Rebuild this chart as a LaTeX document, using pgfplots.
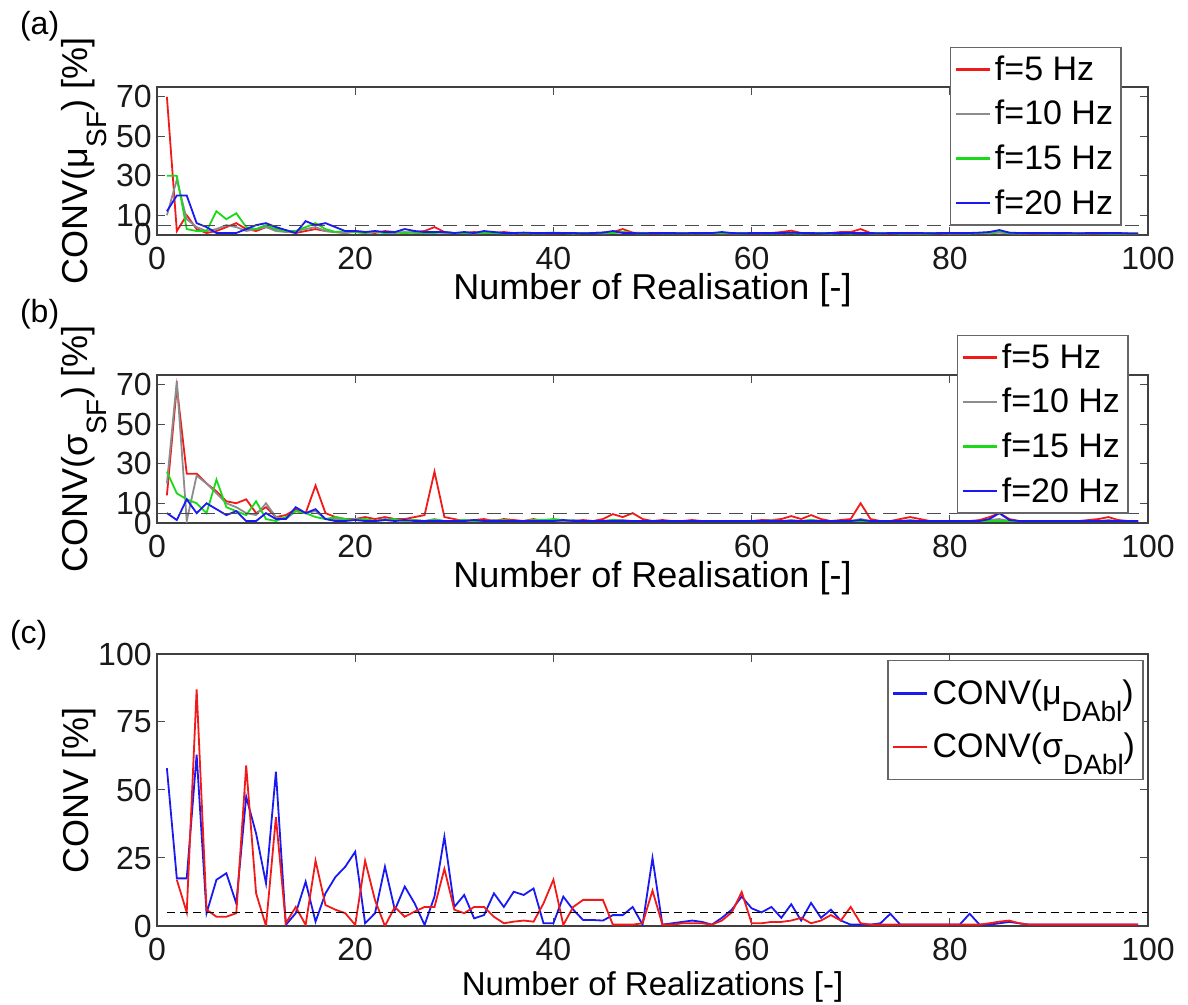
\documentclass[border=0pt]{standalone}
\usepackage{pgfplots}
\pgfplotsset{compat=1.18}
\usepackage{fontspec}
\setmainfont{Liberation Sans}
\definecolor{cred}{rgb}{0.95,0.1,0.1}
\definecolor{cgray}{rgb}{0.55,0.55,0.55}
\definecolor{cgreen}{rgb}{0.1,0.85,0.1}
\definecolor{cblue}{rgb}{0.1,0.1,0.95}
\newcommand{\msub}[1]{\raisebox{-0.5em}{\fontsize{14}{14}\selectfont #1}}
\newcommand{\fs}{\fontsize{16}{16}\selectfont}
\newcommand{\fl}{\fontsize{18}{18}\selectfont}
\newcommand{\fg}{\fontsize{17}{17}\selectfont}
\pgfplotsset{
  myax/.style={
    scale only axis, width=495.5pt, xmin=0, xmax=100, xtick={0,20,...,100},
    tick align=inside, major tick length=4pt,
    tick style={black!70, line width=0.5pt},
    axis line style={black!75, line width=0.6pt},
    /pgf/number format/assume math mode=true,
    every tick label/.append style={font=\fs, text=black!90},
    xticklabel style={inner ysep=6pt},
    yticklabel style={inner xsep=2.5pt},
    legend style={font=\fg, draw=black!60, line width=0.6pt, fill=white,
      cells={anchor=west}, inner xsep=2pt},
    legend image post style={line width=1.2pt},
    legend cell align=left,
    every axis plot/.append style={line width=0.9pt},
  },
}
\begin{document}
\begin{tikzpicture}
% ---------------- (a)
\begin{axis}[myax, at={(78.5pt,385pt)}, anchor=south west, height=74pt,
  ymin=0, ymax=75, ytick={0,10,30,50,70},
  xlabel={Number of Realisation [-]},
  ylabel={CONV(μ\msub{SF}) [\%]},
  every axis x label/.style={at={([yshift=-32.5pt]axis description cs:0.5,0)}, anchor=base, font=\fl},
  every axis y label/.style={at={([xshift=-34.5pt]axis description cs:0,0.5)}, anchor=base, rotate=90, font=\fl},
  legend style={at={(0.800,1.27)}, anchor=north west, row sep=4.5pt},
]
\addplot[color=cred] coordinates {(1,70)(2,2)(3,10)(4,3)(5,1)(6,2)(7,4)(8,6)(9,3)(10,2)(11,4)(12,3)(13,2)(14,1)(15,2)(16,3)(17,2)(18,1.5)(19,1)(20,2)(21,1.5)(22,1)(23,2)(24,1.5)(25,1)(26,1.5)(27,2)(28,4)(29,1.5)(30,1)(31,1)(32,1.5)(33,1)(34,1)(35,1.5)(36,1)(37,0.8)(38,1)(39,1)(40,0.8)(41,1)(42,1)(43,0.8)(44,1)(45,1.2)(46,1.5)(47,3)(48,1.2)(49,1)(50,0.8)(51,1)(52,1)(53,0.8)(54,0.8)(55,1)(56,1)(57,0.8)(58,0.8)(59,1)(60,0.8)(61,1)(62,1)(63,1.5)(64,2.2)(65,1)(66,0.8)(67,1)(68,1)(69,1.5)(70,1.5)(71,3)(72,1)(73,0.8)(74,0.8)(75,1)(76,0.8)(77,0.8)(78,1)(79,0.8)(80,0.8)(81,0.8)(82,1)(83,0.8)(84,1)(85,1.5)(86,1)(87,0.8)(88,0.8)(89,0.8)(90,0.8)(91,1)(92,0.8)(93,0.8)(94,0.8)(95,0.8)(96,1)(97,0.8)(98,0.8)(99,0.8)};
\addlegendentry{f=5 Hz}
\addplot[color=cgray] coordinates {(1,10)(2,28)(3,8)(4,4)(5,2)(6,3)(7,5)(8,4)(9,2)(10,3)(11,4)(12,2)(13,1.5)(14,2)(15,3)(16,4)(17,2)(18,1.5)(19,1)(20,1.5)(21,1)(22,1.5)(23,1)(24,1)(25,1.5)(26,1)(27,1)(28,1.5)(29,1)(30,1)(31,1)(32,0.8)(33,1)(34,1)(35,1)(36,0.8)(37,1)(38,1)(39,0.8)(40,1)(41,1)(42,0.8)(43,1)(44,1)(45,0.8)(46,1)(47,1.5)(48,1)(49,0.8)(50,1)(51,0.8)(52,1)(53,0.8)(54,1)(55,0.8)(56,0.8)(57,1)(58,0.8)(59,0.8)(60,1)(61,0.8)(62,1)(63,0.8)(64,1)(65,0.8)(66,1)(67,0.8)(68,0.8)(69,1)(70,0.8)(71,1.2)(72,0.8)(73,0.8)(74,1)(75,0.8)(76,0.8)(77,0.8)(78,0.8)(79,1)(80,0.8)(81,0.8)(82,0.8)(83,1)(84,0.8)(85,1.2)(86,0.8)(87,0.8)(88,0.8)(89,1)(90,0.8)(91,0.8)(92,0.8)(93,0.8)(94,0.8)(95,1)(96,0.8)(97,0.8)(98,0.8)(99,0.8)};
\addlegendentry{f=10 Hz}
\addplot[color=cgreen] coordinates {(1,30)(2,30)(3,3)(4,2)(5,2)(6,12)(7,8)(8,11)(9,4)(10,3)(11,5)(12,3)(13,2)(14,2)(15,4)(16,6)(17,3)(18,1.5)(19,2)(20,1.5)(21,1)(22,2)(23,1)(24,1.5)(25,1)(26,1.5)(27,1)(28,1)(29,1.5)(30,1)(31,1)(32,1)(33,1.2)(34,1)(35,0.8)(36,1)(37,1)(38,0.8)(39,1)(40,1.2)(41,1)(42,0.8)(43,1)(44,1)(45,1.2)(46,1)(47,1.5)(48,1)(49,0.8)(50,1)(51,1)(52,0.8)(53,1)(54,0.8)(55,1)(56,1)(57,0.8)(58,1)(59,0.8)(60,1)(61,1)(62,0.8)(63,1)(64,1)(65,0.8)(66,1)(67,1)(68,0.8)(69,1)(70,0.8)(71,1)(72,1)(73,0.8)(74,1)(75,0.8)(76,1)(77,0.8)(78,0.8)(79,1)(80,0.8)(81,1)(82,0.8)(83,1)(84,1.2)(85,2)(86,1)(87,0.8)(88,1)(89,0.8)(90,0.8)(91,1)(92,0.8)(93,0.8)(94,1)(95,0.8)(96,0.8)(97,0.8)(98,0.8)(99,0.8)};
\addlegendentry{f=15 Hz}
\addplot[color=cblue] coordinates {(1,12)(2,20)(3,20)(4,6)(5,4)(6,1)(7,1)(8,1)(9,3)(10,5)(11,6)(12,4)(13,2.5)(14,1)(15,7)(16,5)(17,6)(18,4)(19,2)(20,2)(21,1.5)(22,2)(23,1.5)(24,1.5)(25,3)(26,2)(27,1.5)(28,1.5)(29,1.5)(30,1)(31,1.5)(32,1)(33,2)(34,1.5)(35,1)(36,1)(37,1.2)(38,1)(39,1)(40,1)(41,1)(42,1)(43,0.8)(44,1)(45,1.2)(46,2)(47,1)(48,1)(49,0.8)(50,1)(51,1)(52,1)(53,0.8)(54,1)(55,1)(56,1)(57,1.5)(58,1)(59,0.8)(60,1)(61,1)(62,1)(63,1)(64,1.2)(65,1)(66,1)(67,0.8)(68,1)(69,1)(70,1)(71,1)(72,1)(73,0.8)(74,1)(75,1)(76,1)(77,1)(78,0.8)(79,1)(80,1)(81,1)(82,1)(83,1.2)(84,1.5)(85,2.5)(86,1.2)(87,1)(88,1)(89,1)(90,1)(91,1)(92,1)(93,0.8)(94,1)(95,1)(96,1)(97,1)(98,0.8)(99,0.8)};
\addlegendentry{f=20 Hz}
\addplot[black!70, line width=0.6pt, dash pattern=on 7pt off 4pt, forget plot] coordinates {(0,5)(100,5)};
\end{axis}
% ---------------- (b)
\begin{axis}[myax, at={(78.5pt,241pt)}, anchor=south west, height=74pt,
  ymin=0, ymax=75, ytick={0,10,30,50,70},
  xlabel={Number of Realisation [-]},
  ylabel={CONV(σ\msub{SF}) [\%]},
  every axis x label/.style={at={([yshift=-32.5pt]axis description cs:0.5,0)}, anchor=base, font=\fl},
  every axis y label/.style={at={([xshift=-34.5pt]axis description cs:0,0.5)}, anchor=base, rotate=90, font=\fl},
  legend style={at={(0.807,1.27)}, anchor=north west, row sep=4.5pt},
]
\addplot[color=cred] coordinates {(1,14)(2,69)(3,25)(4,25)(5,20)(6,16)(7,11)(8,10)(9,12)(10,5)(11,8)(12,3)(13,4)(14,7)(15,5)(16,19)(17,5)(18,3)(19,2)(20,2)(21,3)(22,2)(23,3)(24,2)(25,2)(26,3)(27,4)(28,26)(29,3)(30,2)(31,1)(32,1.5)(33,2)(34,1)(35,2)(36,1.5)(37,1)(38,2)(39,1)(40,1.5)(41,1)(42,1)(43,1.5)(44,1)(45,2)(46,4.5)(47,3)(48,5)(49,2)(50,1)(51,1.5)(52,1)(53,1)(54,1.5)(55,1)(56,1)(57,1)(58,1)(59,1)(60,1)(61,1.5)(62,1.5)(63,2)(64,3.5)(65,2)(66,4)(67,2)(68,1)(69,1.5)(70,2)(71,10)(72,2)(73,1)(74,1)(75,2)(76,3)(77,2)(78,1)(79,1)(80,1)(81,1)(82,1)(83,1.5)(84,3)(85,5)(86,2)(87,1)(88,1)(89,1)(90,1)(91,1)(92,1)(93,1)(94,1.5)(95,2)(96,3)(97,1.5)(98,1)(99,1)};
\addlegendentry{f=5 Hz}
\addplot[color=cgray] coordinates {(1,20)(2,72)(3,1)(4,24)(5,20)(6,15)(7,10)(8,8)(9,5)(10,4)(11,10)(12,3)(13,2)(14,6)(15,5)(16,6)(17,2)(18,2)(19,1.5)(20,2)(21,1.5)(22,1)(23,2)(24,1.5)(25,1)(26,1.5)(27,1)(28,2)(29,1)(30,1)(31,1.5)(32,1)(33,1)(34,1.5)(35,1)(36,1)(37,1)(38,1.5)(39,1)(40,1)(41,1)(42,1.5)(43,1)(44,1)(45,1)(46,1.5)(47,1.5)(48,1)(49,1)(50,1)(51,1)(52,1)(53,1)(54,1)(55,1)(56,1)(57,1)(58,1)(59,1)(60,1)(61,1)(62,1.5)(63,1)(64,1.5)(65,1)(66,1.5)(67,1)(68,1)(69,1)(70,1)(71,2)(72,1)(73,1)(74,1)(75,1)(76,1.5)(77,1)(78,1)(79,1)(80,1)(81,1)(82,1)(83,1)(84,1.5)(85,2)(86,1)(87,1)(88,1)(89,1)(90,1)(91,1)(92,1)(93,1)(94,1)(95,1)(96,1.5)(97,1)(98,1)(99,1)};
\addlegendentry{f=10 Hz}
\addplot[color=cgreen] coordinates {(1,26)(2,15)(3,12)(4,10)(5,5)(6,22)(7,8)(8,6)(9,4)(10,11)(11,2)(12,1)(13,3)(14,6)(15,5)(16,3)(17,2)(18,3)(19,2)(20,1.5)(21,2)(22,1)(23,1.5)(24,2)(25,1)(26,1.5)(27,1)(28,1.5)(29,1)(30,1)(31,1.5)(32,1)(33,1)(34,1)(35,1.5)(36,1)(37,1)(38,1.5)(39,1.5)(40,2)(41,1.5)(42,1)(43,1)(44,1)(45,1)(46,1.5)(47,1)(48,1)(49,1)(50,1)(51,1)(52,1)(53,1)(54,1)(55,1)(56,1)(57,1)(58,1)(59,1)(60,1)(61,1)(62,1)(63,1)(64,1)(65,1)(66,1.5)(67,1)(68,1)(69,1)(70,1)(71,1)(72,1)(73,1)(74,1)(75,1)(76,1)(77,1)(78,1)(79,1)(80,1)(81,1)(82,1)(83,1)(84,1)(85,1)(86,1)(87,1)(88,1)(89,1)(90,1)(91,1)(92,1)(93,1)(94,1)(95,1)(96,1)(97,1)(98,1)(99,1)};
\addlegendentry{f=15 Hz}
\addplot[color=cblue] coordinates {(1,5)(2,1.5)(3,12)(4,5)(5,10)(6,7)(7,4)(8,6)(9,1)(10,1)(11,5)(12,2)(13,2)(14,8)(15,5)(16,7)(17,2)(18,1)(19,1)(20,1.5)(21,1)(22,1)(23,1.5)(24,1)(25,1.5)(26,1)(27,1)(28,1)(29,1)(30,1)(31,1)(32,1.5)(33,1)(34,1)(35,1)(36,1)(37,1)(38,1)(39,1)(40,1)(41,1.5)(42,1)(43,1)(44,1)(45,1)(46,1)(47,1)(48,1)(49,1)(50,1)(51,1)(52,1)(53,1)(54,1)(55,1)(56,1)(57,1)(58,1)(59,1)(60,1)(61,1)(62,1)(63,1)(64,1)(65,1)(66,1)(67,1)(68,1)(69,1)(70,1)(71,1.5)(72,1)(73,1)(74,1)(75,1)(76,1)(77,1)(78,1)(79,1)(80,1)(81,1)(82,1)(83,1)(84,2)(85,5)(86,1.5)(87,1)(88,1)(89,1)(90,1)(91,1)(92,1)(93,1)(94,1)(95,1)(96,1)(97,1)(98,1)(99,1)};
\addlegendentry{f=20 Hz}
\addplot[black!70, line width=0.6pt, dash pattern=on 7pt off 4pt, forget plot] coordinates {(0,5)(100,5)};
\end{axis}
% ---------------- (c)
\begin{axis}[myax, at={(78.5pt,39.5pt)}, anchor=south west, height=136pt,
  ymin=0, ymax=100, ytick={0,25,50,75,100},
  xlabel={Number of Realizations [-]},
  ylabel={CONV [\%]},
  every axis x label/.style={at={([yshift=-35pt]axis description cs:0.5,0)}, anchor=base, font=\fontsize{16.5}{16.5}\selectfont},
  every axis y label/.style={at={([xshift=-34.5pt]axis description cs:0,0.5)}, anchor=base, rotate=90, font=\fl},
  legend style={at={(0.737,0.978)}, anchor=north west, row sep=9pt, inner ysep=7.5pt},
]
\addplot[color=cblue] coordinates {(1,58)(2,17.5)(3,17.5)(4,63)(5,4.7)(6,17)(7,19.4)(8,8.3)(9,47.5)(10,34)(11,15.7)(12,56.7)(13,0.4)(14,4.7)(15,16.3)(16,1.6)(17,12)(18,18)(19,21.8)(20,27.3)(21,1)(22,4.7)(23,21.8)(24,5.9)(25,14.5)(26,8.3)(27,0.4)(28,10.8)(29,32.8)(30,7)(31,11.4)(32,2.8)(33,4)(34,12)(35,7)(36,12.6)(37,11.4)(38,13.8)(39,1)(40,1)(41,10.8)(42,6)(43,2.2)(44,2.2)(45,2)(46,4)(47,4)(48,7)(49,0.5)(50,25)(51,0.5)(52,1)(53,1.5)(54,2)(55,1.5)(56,0.5)(57,3)(58,6)(59,10.8)(60,6.5)(61,5)(62,7)(63,3)(64,8)(65,2)(66,8.5)(67,3)(68,6)(69,2)(70,0.5)(71,0.5)(72,0.5)(73,1)(74,4.5)(75,0.5)(76,0.5)(77,0.5)(78,0.5)(79,0.5)(80,0.5)(81,0.5)(82,4.5)(83,0.5)(84,0.5)(85,1)(86,1.5)(87,1)(88,0.5)(89,0.5)(90,0.5)(91,0.5)(92,0.5)(93,0.5)(94,0.5)(95,0.5)(96,0.5)(97,0.5)(98,0.5)(99,0.5)};
\addlegendentry{CONV(μ\msub{DAbl})}
\addplot[color=cred] coordinates {(2,17)(3,5)(4,87)(5,6)(6,3.4)(7,3.4)(8,4.7)(9,59)(10,12)(11,0)(12,40)(13,1)(14,7)(15,0.4)(16,24)(17,7.7)(18,6)(19,4.7)(20,0.4)(21,24)(22,9.5)(23,0)(24,7)(25,3.4)(26,5.3)(27,7)(28,7)(29,21)(30,6)(31,4.7)(32,7)(33,7)(34,3.4)(35,1)(36,1.6)(37,2)(38,1.6)(39,8.3)(40,17)(41,0.4)(42,7)(43,9.6)(44,9.6)(45,9.6)(46,0.5)(47,0.5)(48,0.5)(49,1)(50,13)(51,0.5)(52,0.5)(53,1)(54,1)(55,1)(56,0.5)(57,2)(58,5)(59,12.5)(60,1)(61,1)(62,1.5)(63,1.5)(64,2)(65,3)(66,1)(67,2)(68,4)(69,2)(70,7)(71,1)(72,0.5)(73,0.5)(74,0.5)(75,0.5)(76,0.5)(77,0.5)(78,0.5)(79,0.5)(80,0.5)(81,0.5)(82,0.5)(83,0.5)(84,1)(85,1.6)(86,2)(87,1)(88,0.5)(89,0.5)(90,0.5)(91,0.5)(92,0.5)(93,0.5)(94,0.5)(95,0.5)(96,0.5)(97,0.5)(98,0.5)(99,0.5)};
\addlegendentry{CONV(σ\msub{DAbl})}
\addplot[black, line width=0.8pt, dash pattern=on 4pt off 2.5pt, forget plot] coordinates {(1,5)(100,5)};
\end{axis}
\node[anchor=base west, font=\fs] at (6.5pt,485pt) {(a)};
\node[anchor=base west, font=\fs] at (6.5pt,341pt) {(b)};
\node[anchor=base west, font=\fs] at (1.5pt,180.5pt) {(c)};
\pgfresetboundingbox
\path[use as bounding box] (0,0) rectangle (594pt,502.5pt);
\end{tikzpicture}
\end{document}
